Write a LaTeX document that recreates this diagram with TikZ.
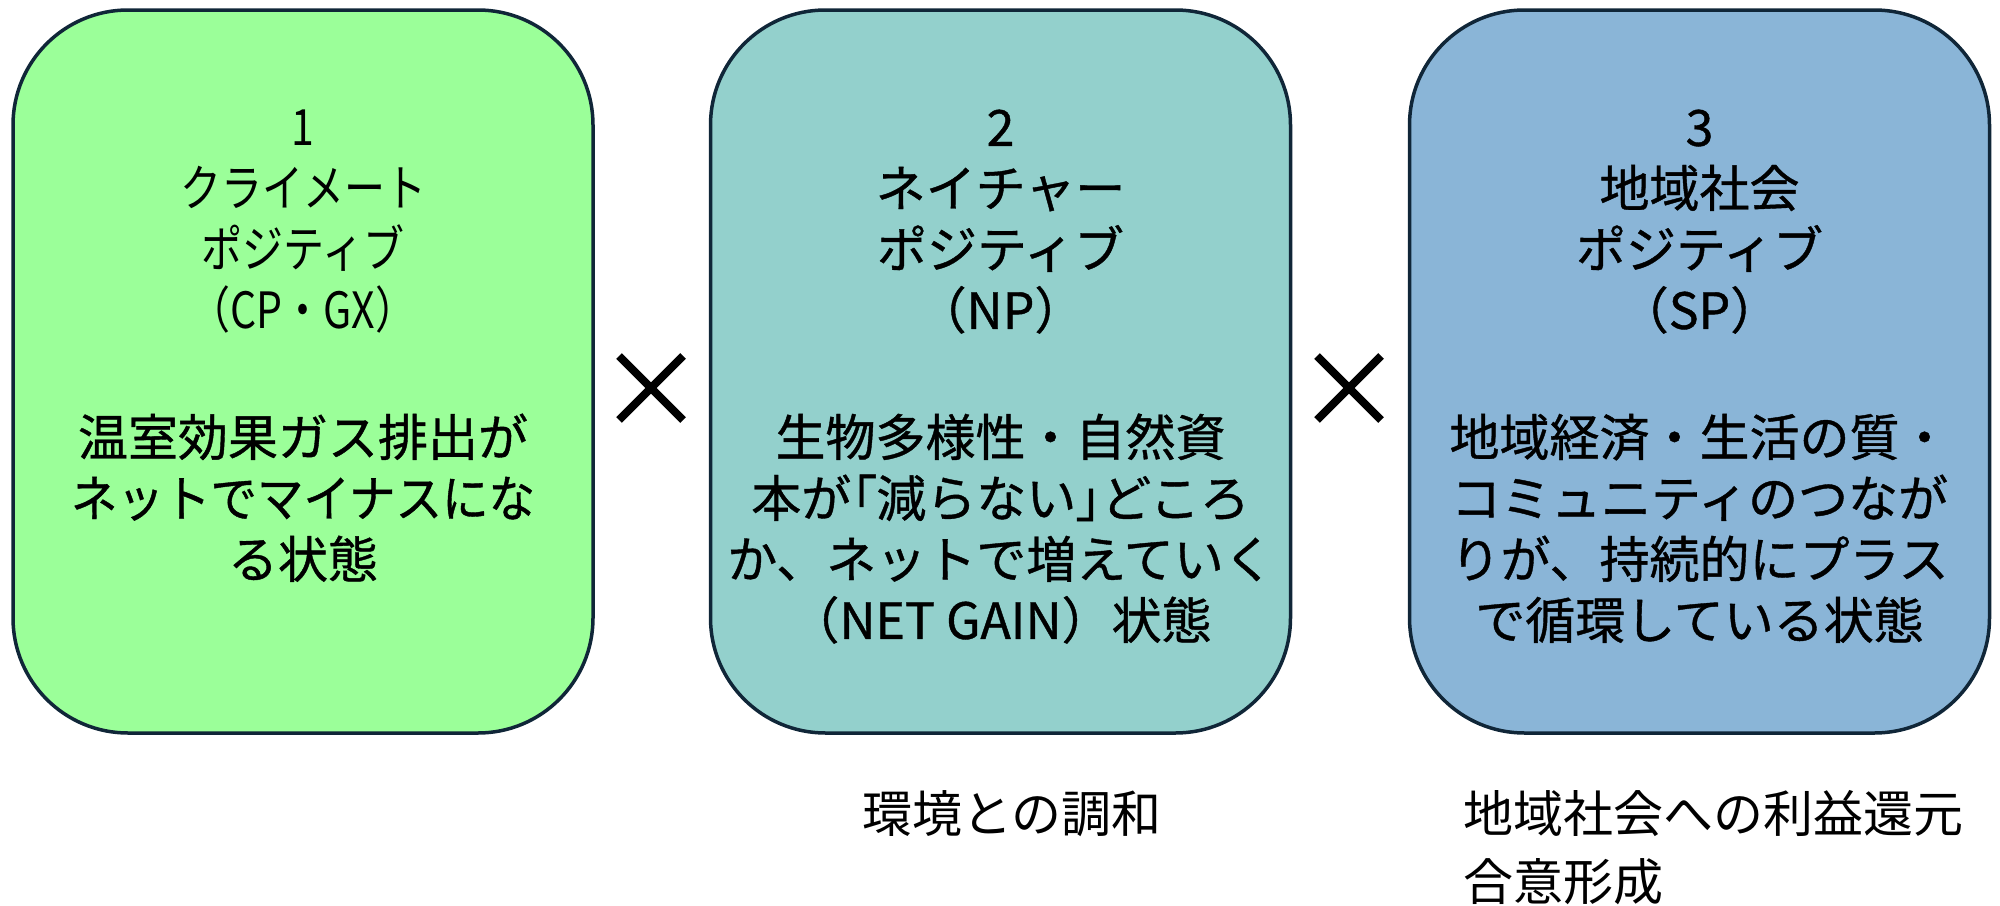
\documentclass[tikz,border=0pt]{standalone}
\usepackage{fontspec}
\newfontfamily\jp{Noto Sans CJK JP}
\newfontfamily\jpb[FakeBold=0.8]{Noto Sans CJK JP}
\newfontfamily\jpn[FakeStretch=0.82]{Noto Sans CJK JP}
\newfontfamily\jpc[FakeBold=0.8,FakeStretch=0.93]{Noto Sans CJK JP}
\newfontfamily\jpp[FakeBold=0.8,RawFeature=+palt]{Noto Sans CJK JP}
\definecolor{cone}{RGB}{155,255,153}
\definecolor{ctwo}{RGB}{147,208,204}
\definecolor{cthree}{RGB}{138,181,215}
\definecolor{edge}{RGB}{16,38,56}
\tikzset{
  panel/.style={draw=edge, line width=3.5pt, rounded corners=115pt,
    minimum width=580pt, minimum height=723pt, inner sep=0pt},
  paneltext/.style={anchor=north, align=center, inner sep=0pt,
    font=\jpb\fontsize{50}{61}\selectfont},
  crossmark/.style={line width=8pt, line cap=butt, black},
  note/.style={anchor=north west, align=left, inner sep=0pt,
    font=\jp\fontsize{50}{68}\selectfont}
}
\begin{document}
\begin{tikzpicture}[x=1pt,y=-1pt]
\useasboundingbox (0,0) rectangle (2000,905);
\node[panel, fill=cone] (b1) at (303,371.5) {};
\node[panel, fill=ctwo] (b2) at (1000.5,371.5) {};
\node[panel, fill=cthree] (b3) at (1699.5,371.5) {};

\node[paneltext] (t1) at (303,103) {\strut{\jpn 1}\\{\jpn クライメート}\\{\jpn ポジティブ}\\{\jpn （CP・GX）}\\[66pt]温室効果ガス排出が\\{\jpc ネットでマイナスにな}\\る状態};
\node[paneltext] (t2) at (1000.5,103) {\strut 2\\ネイチャー\\ポジティブ\\（NP）\\[66pt]生物多様性・自然資\\本が{\jpp 「}減らない{\jpp 」}どころ\\か、ネットで増えていく\\（NET GAIN）状態};
\node[paneltext] (t3) at (1699.5,103) {\strut 3\\地域社会\\ポジティブ\\（SP）\\[66pt]地域経済・生活の質・\\コミュニティのつなが\\りが、持続的にプラス\\で循環している状態};

\coordinate (x1) at (651,388);
\coordinate (x2) at (1349,388);
\draw[crossmark] ([shift={(-32,-32)}]x1) -- ([shift={(32,32)}]x1);
\draw[crossmark] ([shift={(-32,32)}]x1) -- ([shift={(32,-32)}]x1);
\draw[crossmark] ([shift={(-32,-32)}]x2) -- ([shift={(32,32)}]x2);
\draw[crossmark] ([shift={(-32,32)}]x2) -- ([shift={(32,-32)}]x2);

\node[note] (n2) at (862,790) {環境との調和};
\node[note] (n3) at (1463,790) {地域社会への利益還元\\合意形成};
\end{tikzpicture}
\end{document}
